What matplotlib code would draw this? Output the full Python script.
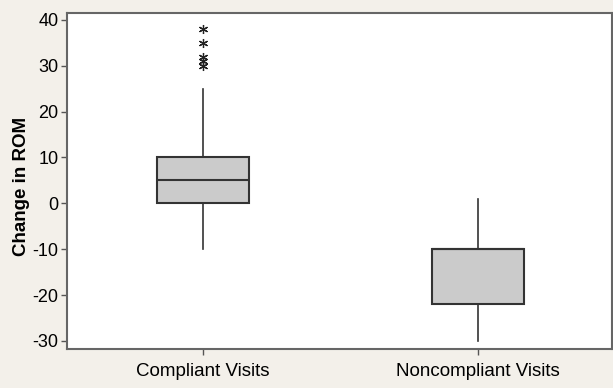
import matplotlib
matplotlib.use("Agg")
import matplotlib.pyplot as plt

# box plot summary
groups = ["Compliant Visits", "Noncompliant Visits"]
q1 = [0, -22]
med = [5, -10]
q3 = [10, -10]
whislo = [-10, -30]
whishi = [25, 1]
fliers = [[30, 31, 32, 35, 38], []]

plt.rcParams['font.family'] = ['Liberation Sans', 'DejaVu Sans']
plt.rcParams['axes.unicode_minus'] = False

fig = plt.figure(figsize=(6.13, 3.88), dpi=100, facecolor="#f3f0ea")
ax = fig.add_axes([0.109, 0.1005, 0.89, 0.866])
ax.set_facecolor("white")

stats = []
for i in range(len(groups)):
    stats.append(dict(label=groups[i], q1=q1[i], med=med[i], q3=q3[i],
                      whislo=whislo[i], whishi=whishi[i], fliers=fliers[i]))

ax.bxp(stats, positions=[1, 2], widths=0.335, patch_artist=True, showcaps=False,
       boxprops=dict(facecolor="#cbcbcb", edgecolor="#333333", linewidth=1.5),
       medianprops=dict(color="#333333", linewidth=1.5),
       whiskerprops=dict(color="#333333", linewidth=1.2),
       flierprops=dict(marker=(6, 2, 0), markersize=6.5, markeredgecolor="#222222",
                       markeredgewidth=0.9, linestyle="none"))

ax.set_xlim(0.505, 2.49)
ax.set_ylim(-31.75, 41.5)
ax.set_yticks([-30, -20, -10, 0, 10, 20, 30, 40])
ax.set_ylabel("Change in ROM", fontsize=13.5, fontweight="bold", labelpad=0)
ax.yaxis.set_label_coords(-0.067, 0.485)
ax.tick_params(axis="y", labelsize=13, direction="out", length=4,
               color="#555555", width=1, pad=2)
ax.tick_params(axis="x", labelsize=13.5, direction="out", length=4,
               color="#555555", width=1, pad=6)
for s in ax.spines.values():
    s.set_color("#666666")
    s.set_linewidth(1.5)

fig.savefig("out.png", dpi=100, facecolor=fig.get_facecolor())
